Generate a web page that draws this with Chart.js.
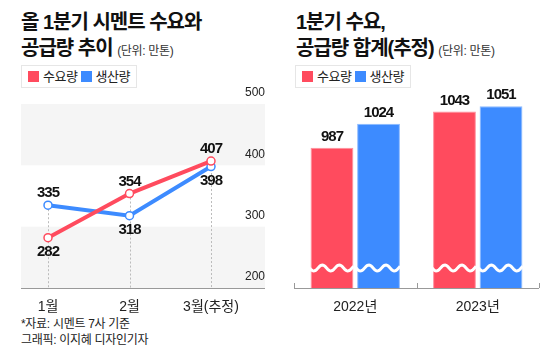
<!DOCTYPE html>
<html>
<head>
<meta charset="utf-8">
<script src="https://cdn.jsdelivr.net/npm/chart.js@4"></script>
<style>
  body { margin: 0; width: 560px; height: 349px; position: relative; overflow: hidden; background: #fff;
         font-family: "Liberation Sans", "Noto Sans CJK KR", sans-serif; color: #111; }
  .title { position: absolute; font-weight: bold; font-size: 20px; line-height: 26px; letter-spacing: -1px; white-space: nowrap; }
  .unit { font-weight: normal; font-size: 12px; letter-spacing: -0.3px; color: #333; }
  .legend { position: absolute; top: 65px; height: 21px; border: 1px solid #e6e6e6; font-size: 13px; line-height: 21px;
            padding: 0 6px; white-space: nowrap; letter-spacing: -0.5px; color: #222; }
  .sw { display: inline-block; width: 11px; height: 11px; vertical-align: -1px; margin-right: 4px; }
  .foot { position: absolute; left: 21px; font-size: 12px; color: #222; letter-spacing: -0.3px; white-space: nowrap; }
  canvas { position: absolute; top: 0; }
</style>
</head>
<body>
<div class="title" style="left:21px;top:9px">올 1분기 시멘트 수요와<br>공급량 추이 <span class="unit">(단위: 만톤)</span></div>
<div class="title" style="left:296px;top:9px">1분기 수요,<br>공급량 합계(추정) <span class="unit">(단위: 만톤)</span></div>
<div class="legend" style="left:21px"><span class="sw" style="background:#ff4b5e"></span>수요량 <span class="sw" style="background:#3d8bff"></span>생산량</div>
<div class="legend" style="left:295px"><span class="sw" style="background:#ff4b5e"></span>수요량 <span class="sw" style="background:#3d8bff"></span>생산량</div>
<div class="foot" style="top:314px">*자료: 시멘트 7사 기준</div>
<div class="foot" style="top:330px">그래픽: 이지혜 디자인기자</div>

<canvas id="lineChart" width="280" height="315" style="left:0"></canvas>
<canvas id="barChart" width="280" height="315" style="left:280px"></canvas>

<script>
// monthly demand / supply (만톤)
const months = ['1월', '2월', '3월(추정)'];
const demandMonthly = [282, 354, 407];
const supplyMonthly = [335, 318, 398];
const monthlyTicks = [200, 300, 400, 500];

// Q1 totals
const years = ['2022년', '2023년'];
const demandTotal = [987, 1043];
const supplyTotal = [1024, 1051];

const RED = '#ff4b5e';
const BLUE = '#3d8bff';
const FONT = '"Liberation Sans", "Noto Sans CJK KR", sans-serif';

function drawNumber(ctx, text, x, y) {
  ctx.save();
  ctx.font = 'bold 15px ' + FONT;
  ctx.letterSpacing = '-1px';
  ctx.fillStyle = '#111';
  ctx.textAlign = 'center';
  ctx.textBaseline = 'middle';
  ctx.fillText(text, x, y);
  ctx.restore();
}

// bands, dashed guides, axis line and value labels for the line chart
const linePlugin = {
  id: 'lineDeco',
  beforeDraw(chart) {
    const ctx = chart.ctx, y = chart.scales.y;
    ctx.save();
    ctx.fillStyle = '#f5f5f5';
    for (let i = monthlyTicks.length - 1; i > 0; i -= 2) {
      const top = y.getPixelForValue(monthlyTicks[i]);
      const bot = y.getPixelForValue(monthlyTicks[i - 1]);
      ctx.fillRect(21, top, 244, bot - top);
    }
    ctx.restore();
  },
  beforeDatasetsDraw(chart) {
    const ctx = chart.ctx, area = chart.chartArea;
    const m0 = chart.getDatasetMeta(0).data, m1 = chart.getDatasetMeta(1).data;
    ctx.save();
    ctx.strokeStyle = '#bbb';
    ctx.lineWidth = 1;
    ctx.setLineDash([2, 2]);
    m0.forEach((p, i) => {
      const top = Math.min(p.y, m1[i].y);
      ctx.beginPath();
      ctx.moveTo(Math.round(p.x) + 0.5, top);
      ctx.lineTo(Math.round(p.x) + 0.5, area.bottom);
      ctx.stroke();
    });
    ctx.setLineDash([]);
    ctx.strokeStyle = '#999';
    ctx.beginPath();
    ctx.moveTo(21, area.bottom + 0.5);
    ctx.lineTo(265, area.bottom + 0.5);
    ctx.stroke();
    ctx.restore();
  },
  afterDatasetsDraw(chart) {
    const ctx = chart.ctx;
    const m0 = chart.getDatasetMeta(0).data, m1 = chart.getDatasetMeta(1).data;
    m0.forEach((p, i) => {
      const q = m1[i];
      const upper = demandMonthly[i] >= supplyMonthly[i] ? [p, demandMonthly[i]] : [q, supplyMonthly[i]];
      const lower = demandMonthly[i] >= supplyMonthly[i] ? [q, supplyMonthly[i]] : [p, demandMonthly[i]];
      drawNumber(ctx, String(upper[1]), upper[0].x, upper[0].y - 12);
      drawNumber(ctx, String(lower[1]), lower[0].x, lower[0].y + 14);
    });
  }
};

new Chart(document.getElementById('lineChart'), {
  type: 'line',
  data: {
    labels: months,
    datasets: [
      { label: '수요량', data: demandMonthly, borderColor: RED, borderWidth: 4, tension: 0,
        pointRadius: 4, pointBorderWidth: 1.5, pointBackgroundColor: '#fff', pointBorderColor: RED },
      { label: '생산량', data: supplyMonthly, borderColor: BLUE, borderWidth: 4, tension: 0,
        pointRadius: 4, pointBorderWidth: 1.5, pointBackgroundColor: '#fff', pointBorderColor: BLUE }
    ]
  },
  options: {
    responsive: false,
    animation: false,
    layout: { padding: { left: 48, right: 15, top: 104, bottom: 1 } },
    plugins: { legend: { display: false }, tooltip: { enabled: false } },
    scales: {
      x: {
        grid: { display: false }, border: { display: false },
        ticks: { color: '#222', font: { size: 14, family: FONT }, padding: 3, maxRotation: 0 },
        afterFit: s => { s.height = 26; }
      },
      y: {
        position: 'right', min: 200, max: 500,
        afterBuildTicks: s => { s.ticks = monthlyTicks.map(v => ({ value: v })); },
        grid: { display: false }, border: { display: false },
        ticks: { crossAlign: 'far', labelOffset: -11, color: '#222', font: { size: 12, family: FONT } },
        afterFit: s => { s.width = 54; }
      }
    }
  },
  plugins: [linePlugin]
});

// wavy break marks, axis line and labels for the bar chart
const barPlugin = {
  id: 'barDeco',
  afterDatasetsDraw(chart) {
    const ctx = chart.ctx, area = chart.chartArea, x = chart.scales.x;
    const waveY = area.bottom - 20;
    ctx.save();
    ctx.strokeStyle = '#fff';
    ctx.lineWidth = 3;
    [0, 1].forEach(d => {
      chart.getDatasetMeta(d).data.forEach(bar => {
        const x0 = bar.x - bar.width / 2 - 1, x1 = bar.x + bar.width / 2 + 1;
        ctx.beginPath();
        for (let px = x0; px <= x1; px += 1) {
          const py = waveY + 3 * Math.sin((px - x0) / 17 * Math.PI * 2);
          if (px === x0) ctx.moveTo(px, py); else ctx.lineTo(px, py);
        }
        ctx.stroke();
      });
    });
    // axis with small ticks at category edges
    ctx.strokeStyle = '#999';
    ctx.lineWidth = 1;
    ctx.beginPath();
    ctx.moveTo(area.left, area.bottom + 0.5);
    ctx.lineTo(area.right, area.bottom + 0.5);
    const mid = (x.getPixelForValue(0) + x.getPixelForValue(1)) / 2;
    [area.left, mid, area.right].forEach(px => {
      ctx.moveTo(Math.round(px) + 0.5, area.bottom);
      ctx.lineTo(Math.round(px) + 0.5, area.bottom - 5);
    });
    ctx.stroke();
    ctx.restore();

    const vals = [demandTotal, supplyTotal];
    [0, 1].forEach(d => {
      chart.getDatasetMeta(d).data.forEach((bar, i) => {
        drawNumber(ctx, String(vals[d][i]), bar.x, bar.y - 11);
      });
    });
  }
};

new Chart(document.getElementById('barChart'), {
  type: 'bar',
  data: {
    labels: years,
    datasets: [
      { label: '수요량', data: demandTotal, backgroundColor: RED, borderColor: '#ff8f9c', borderWidth: 1,
        categoryPercentage: 0.76, barPercentage: 0.92 },
      { label: '생산량', data: supplyTotal, backgroundColor: BLUE, borderColor: '#8cbaff', borderWidth: 1,
        categoryPercentage: 0.76, barPercentage: 0.92 }
    ]
  },
  options: {
    responsive: false,
    animation: false,
    layout: { padding: { left: 14, right: 21, top: 94, bottom: 1 } },
    plugins: { legend: { display: false }, tooltip: { enabled: false } },
    scales: {
      x: {
        grid: { display: false }, border: { display: false },
        ticks: { color: '#222', font: { size: 14, family: FONT }, padding: 3, maxRotation: 0 },
        afterFit: s => { s.height = 26; }
      },
      y: { display: false, min: 770, max: 1070 }
    }
  },
  plugins: [barPlugin]
});
</script>
</body>
</html>
